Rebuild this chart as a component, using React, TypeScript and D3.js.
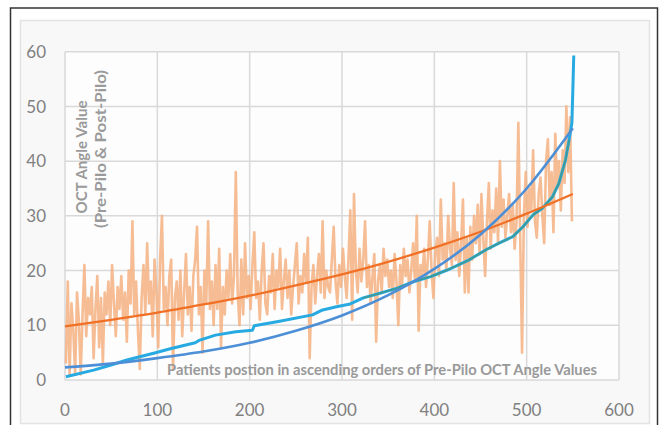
import React from "react";
import * as d3 from "d3";

// patients positions and tick values
const xTicks = [0, 100, 200, 300, 400, 500, 600];
const yTicks = [0, 10, 20, 30, 40, 50, 60];

// post-pilo OCT angle, read every 2nd patient (pos 1, 3, 5 ... 549)
const postPilo = [
  3, 18, 1, 14, 9, 1, 16, 11, 1, 12,
  21, 8, 15, 12, 17, 4, 13, 19, 6, 15,
  3, 16, 12, 18, 10, 21, 14, 8, 17, 13,
  19, 11, 16, 7, 20, 14, 29, 12, 18, 9,
  2, 15, 21, 12, 25, 14, 18, 8, 22, 16,
  6, 22, 30, 13, 17, 10, 19, 22, 2, 15,
  18, 11, 20, 8, 16, 23, 12, 17, 9, 19,
  22, 28, 12, 17, 5, 20, 14, 29, 13, 18,
  10, 21, 13, 24, 6, 17, 12, 20, 15, 23,
  14, 19, 38, 16, 10, 22, 12, 25, 15, 19,
  13, 21, 27, 15, 18, 11, 20, 25, 14, 12,
  19, 16, 23, 13, 20, 17, 24, 13, 18, 22,
  15, 20, 12, 17, 21, 25, 14, 19, 16, 23,
  18, 26, 4, 17, 21, 14, 19, 23, 16, 29,
  15, 20, 17, 16, 22, 28, 18, 14, 21, 17,
  24, 19, 15, 22, 31, 11, 34, 20, 16, 24,
  18, 22, 29, 17, 21, 14, 19, 23, 7, 18,
  21, 16, 24, 19, 22, 17, 20, 15, 23, 18,
  10, 21, 17, 24, 19, 22, 16, 20, 25, 18,
  30, 9, 21, 19, 24, 17, 22, 29, 20, 15,
  23, 26, 19, 33, 22, 25, 20, 30, 24, 21,
  36, 22, 27, 19, 25, 33, 16, 26, 16, 28,
  22, 30, 25, 32, 23, 34, 26, 19, 29, 36,
  24, 31, 27, 35, 25, 40, 28, 33, 26, 30,
  34, 27, 32, 24, 29, 47, 26, 5, 30, 38,
  28, 35, 31, 42, 29, 26, 34, 37, 30, 25,
  40, 44, 32, 38, 27, 45, 35, 40, 31, 42,
  36, 50, 38, 48, 29,
];

// pre-pilo OCT angle in ascending order (read at breakpoints)
const sortedPos = [1, 31, 49, 67, 96, 114, 141, 146, 163, 185, 203, 205, 231, 268, 279, 294, 309, 323, 342, 360, 378, 396, 414, 436, 456, 470, 485, 496, 507, 517, 528, 535, 542, 546, 549, 550, 551];
const sortedVal = [0.6, 1.8, 2.7, 3.65, 4.9, 5.7, 6.8, 7.3, 8.2, 8.8, 9.1, 9.9, 10.7, 11.9, 12.8, 13.4, 13.9, 15.0, 15.9, 16.8, 18.0, 18.9, 20.1, 21.8, 23.8, 25.0, 26.2, 28.0, 30.2, 31.4, 33.5, 36.0, 40.2, 43.9, 47, 53, 59.3];

// trend lines
const trendPos = [0, 50, 100, 150, 200, 250, 300, 350, 400, 450, 500, 550];
const preTrend = [2.3, 3.0, 4.0, 5.2, 6.8, 9.0, 11.8, 15.5, 20.3, 26.6, 35.0, 46.0];
const postTrend = [9.8, 11.0, 12.3, 13.8, 15.4, 17.3, 19.3, 21.6, 24.2, 27.1, 30.4, 34.0];

const font = "Lato, 'Open Sans', sans-serif";

export default function App() {
  const width = 661;
  const height = 425;

  const x = d3.scaleLinear().domain([0, 600]).range([65, 619]);
  const y = d3.scaleLinear().domain([0, 60]).range([380, 51.7]);

  const line = d3
    .line<[number, number]>()
    .x((d) => x(d[0]))
    .y((d) => y(d[1]));
  const smooth = d3
    .line<[number, number]>()
    .x((d) => x(d[0]))
    .y((d) => y(d[1]))
    .curve(d3.curveMonotoneX);

  const rawPts: [number, number][] = postPilo.map((v, i) => [1 + i * 2, v]);
  const sortedPts: [number, number][] = sortedPos.map((p, i) => [p, sortedVal[i]]);
  const overlayPts = sortedPts.filter((d) => d[0] >= 323 && d[0] <= 546);
  const preTrendPts: [number, number][] = trendPos.map((p, i) => [p, preTrend[i]]);
  const postTrendPts: [number, number][] = trendPos.map((p, i) => [p, postTrend[i]]);

  return (
    <div style={{ position: "absolute", left: 0, top: 0 }}>
      <svg width={width} height={height} style={{ display: "block" }}>
        <rect x={0} y={0} width={width} height={height} fill="#fff" />
        {/* frame */}
        <rect x={10.5} y={8} width={647} height={430} fill="none" stroke="#333" strokeWidth={1.5} />
        <rect x={20.5} y={20.5} width={629} height={403} fill="#f8f8f8" stroke="#e3e3e3" strokeWidth={1.5} />
        <rect x={x(0)} y={y(60)} width={x(600) - x(0)} height={y(0) - y(60)} fill="#fdfdfd" />

        {/* grid */}
        {yTicks.map((t) => (
          <line key={"h" + t} x1={x(0)} x2={x(600)} y1={y(t)} y2={y(t)} stroke="#d9d9d9" strokeWidth={1.5} />
        ))}
        {xTicks.map((t) => (
          <line key={"v" + t} x1={x(t)} x2={x(t)} y1={y(0)} y2={y(60)} stroke="#d9d9d9" strokeWidth={1.5} />
        ))}

        {/* tick labels */}
        {yTicks.map((t) => (
          <text key={"yl" + t} x={46} y={y(t)} dy="0.36em" textAnchor="end" fontFamily={font} fontSize={17} fill="#808080">
            {t}
          </text>
        ))}
        {xTicks.map((t) => (
          <text key={"xl" + t} x={x(t)} y={416} textAnchor="middle" fontFamily={font} fontSize={17} fill="#808080">
            {t}
          </text>
        ))}

        {/* series */}
        <path d={line(rawPts) || ""} fill="none" stroke="#f4b183" strokeOpacity={0.85} strokeWidth={2.6} strokeLinejoin="round" />
        <path d={line(sortedPts) || ""} fill="none" stroke="#27aae1" strokeWidth={3} strokeLinejoin="round" />
        <path d={line(overlayPts) || ""} fill="none" stroke="#3d9a95" strokeWidth={1.6} strokeLinejoin="round" />
        <path d={smooth(postTrendPts) || ""} fill="none" stroke="#f07026" strokeWidth={2.3} />
        <path d={smooth(preTrendPts) || ""} fill="none" stroke="#4c8fd6" strokeWidth={2.6} />

        {/* axis titles */}
        <g transform="translate(82,157) rotate(-90)">
          <text textAnchor="middle" dy="0.35em" fontFamily={font} fontWeight="bold" fontSize={15} fill="#9a9a9a" textLength={113} lengthAdjust="spacingAndGlyphs">
            OCT Angle Value
          </text>
        </g>
        <g transform="translate(101,149) rotate(-90)">
          <text textAnchor="middle" dy="0.35em" fontFamily={font} fontWeight="bold" fontSize={15} fill="#9a9a9a" textLength={158} lengthAdjust="spacingAndGlyphs">
            (Pre-Pilo &amp; Post-Pilo)
          </text>
        </g>
        <text x={382} y={370} dy="0.35em" textAnchor="middle" fontFamily={font} fontWeight="bold" fontSize={15} fill="#999" textLength={430} lengthAdjust="spacingAndGlyphs">
          Patients postion in ascending orders of Pre-Pilo OCT Angle Values
        </text>
      </svg>
    </div>
  );
}
